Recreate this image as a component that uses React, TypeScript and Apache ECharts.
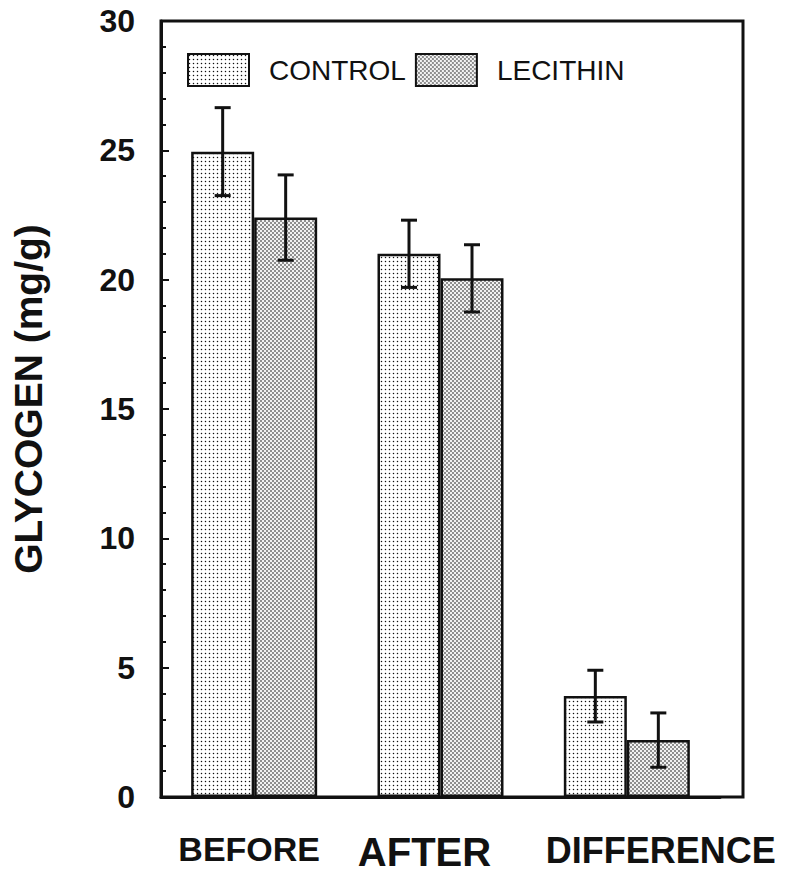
import React, { useEffect, useRef } from "react";
import * as echarts from "echarts";

const categories = ["BEFORE", "AFTER", "DIFFERENCE"];
const controlMeans = [24.95, 21.0, 3.9];
const controlErrors = [1.7, 1.3, 1.0];
const lecithinMeans = [22.4, 20.05, 2.2];
const lecithinErrors = [1.65, 1.3, 1.05];
const yTicks = [0, 5, 10, 15, 20, 25, 30];

const FONT = "'Liberation Sans', Arial, Helvetica, sans-serif";
const BAR_WIDTH = 63;

function makeDots(bg: string, dots: [number, number][], size: number, r: number) {
  const c = document.createElement("canvas");
  c.width = size;
  c.height = size;
  const ctx = c.getContext("2d")!;
  ctx.fillStyle = bg;
  ctx.fillRect(0, 0, size, size);
  ctx.fillStyle = "#111";
  for (const [x, y] of dots) {
    ctx.beginPath();
    ctx.arc(x, y, r, 0, Math.PI * 2);
    ctx.fill();
  }
  return c;
}

function errorSeries(name: string, means: number[], errs: number[], offset: number) {
  return {
    type: "custom",
    name,
    z: 5,
    data: means.map((m, i) => [i, m - errs[i], m + errs[i]]),
    renderItem: (params: any, api: any) => {
      const idx = api.value(0);
      const lo = api.coord([idx, api.value(1)]);
      const hi = api.coord([idx, api.value(2)]);
      const x = lo[0] + offset;
      const cap = 8;
      const style = { stroke: "#111", lineWidth: 3 };
      return {
        type: "group",
        children: [
          { type: "line", shape: { x1: x, y1: lo[1], x2: x, y2: hi[1] }, style },
          { type: "line", shape: { x1: x - cap, y1: hi[1], x2: x + cap, y2: hi[1] }, style },
          { type: "line", shape: { x1: x - cap, y1: lo[1], x2: x + cap, y2: lo[1] }, style },
        ],
      };
    },
  };
}

export default function App() {
  const ref = useRef<HTMLDivElement>(null);

  useEffect(() => {
    if (!ref.current) return;
    const chart = echarts.init(ref.current, null, { renderer: "svg" });

    const controlPattern = makeDots("#ffffff", [[1.5, 1.5]], 4, 0.75);
    const lecithinPattern = makeDots("#f2f2f2", [[1, 1], [3, 3]], 4, 0.8);

    const gridLeft = 161;
    const gridTop = 21;
    const gridBottom = 76;

    chart.setOption({
      animation: false,
      backgroundColor: "#ffffff",
      textStyle: { fontFamily: FONT },
      grid: { left: gridLeft, right: 66, top: gridTop, bottom: gridBottom, containLabel: false },
      legend: {
        data: ["CONTROL", "LECITHIN"],
        left: 187,
        top: 53,
        padding: 0,
        itemWidth: 61,
        itemHeight: 32,
        itemGap: 9,
        icon: "rect",
        itemStyle: { borderColor: "#111", borderWidth: 2 },
        textStyle: { fontSize: 28, color: "#111", fontFamily: FONT, padding: [0, 0, 0, 15] },
      },
      xAxis: {
        type: "category",
        data: [
          { value: categories[0], textStyle: { fontSize: 34, padding: [0, 10, 0, 0] } },
          { value: categories[1], textStyle: { fontSize: 40, padding: [0, 32, 0, 0] } },
          { value: categories[2], textStyle: { fontSize: 36, padding: [0, 0, 0, 68] } },
        ],
        axisLine: { lineStyle: { color: "#111", width: 3 } },
        axisTick: { show: false },
        axisLabel: { color: "#111", fontWeight: "bold", fontFamily: FONT, margin: 35, interval: 0 },
      },
      yAxis: {
        type: "value",
        min: yTicks[0],
        max: yTicks[yTicks.length - 1],
        interval: 5,
        name: "GLYCOGEN (mg/g)",
        nameLocation: "middle",
        nameGap: 113,
        nameTextStyle: { fontSize: 39, fontWeight: "bold", color: "#111", fontFamily: FONT, padding: [0, 0, 0, 20] },
        axisLine: { show: true, lineStyle: { color: "#111", width: 3 } },
        axisTick: { show: true, inside: true, length: 8, lineStyle: { color: "#111", width: 2 } },
        minorTick: { show: true, splitNumber: 5, length: 5, lineStyle: { color: "#111", width: 2 } },
        splitLine: { show: false },
        axisLabel: { color: "#111", fontSize: 32, fontWeight: "bold", fontFamily: FONT, margin: 26 },
      },
      graphic: [
        {
          type: "rect",
          shape: { x: gridLeft, y: gridTop, width: 582, height: 776 },
          style: { fill: "none", stroke: "#111", lineWidth: 3 },
          silent: true,
          z: 0,
        },
      ],
      series: [
        {
          type: "bar",
          name: "CONTROL",
          data: controlMeans,
          barWidth: BAR_WIDTH,
          barGap: "0%",
          itemStyle: {
            color: { image: controlPattern, repeat: "repeat" },
            borderColor: "#111",
            borderWidth: 2.5,
          },
        },
        {
          type: "bar",
          name: "LECITHIN",
          data: lecithinMeans,
          barWidth: BAR_WIDTH,
          barGap: "0%",
          itemStyle: {
            color: { image: lecithinPattern, repeat: "repeat" },
            borderColor: "#111",
            borderWidth: 2.5,
          },
        },
        errorSeries("CONTROL_ERR", controlMeans, controlErrors, -BAR_WIDTH / 2),
        errorSeries("LECITHIN_ERR", lecithinMeans, lecithinErrors, BAR_WIDTH / 2),
      ],
    });

    return () => chart.dispose();
  }, []);

  return <div ref={ref} style={{ width: 786, height: 873, position: "absolute", left: 0, top: 0 }} />;
}
